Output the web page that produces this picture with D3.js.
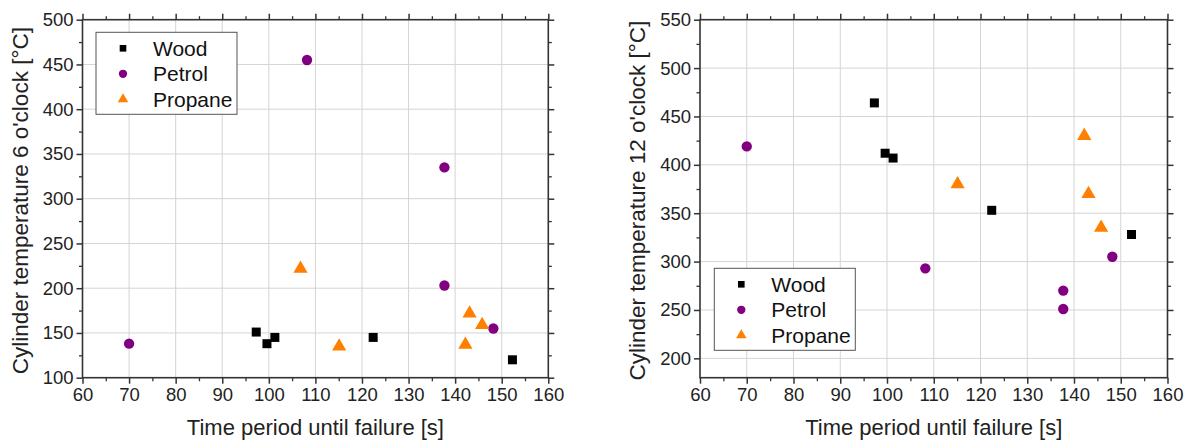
<!DOCTYPE html>
<html>
<head>
<meta charset="utf-8">
<script src="https://cdn.jsdelivr.net/npm/d3@7"></script>
<style>
  html, body { margin: 0; padding: 0; background: #fff; }
  svg { display: block; font-family: "Liberation Sans", Arial, sans-serif; }
</style>
</head>
<body>
<svg id="chart" width="1188" height="441"></svg>
<script>
// Time until failure [s] for each fire source
const woodTime    = [97.3, 99.6, 101.3, 122.4, 152.3];
const petrolTime  = [70.0, 108.2, 137.7, 137.7, 148.2];
const propaneTime = [106.8, 115.1, 142.2, 143.1, 145.8];

// Cylinder wall temperature at the 6 o'clock position [°C]
const wood6    = [151, 138, 145, 145, 120];
const petrol6  = [138, 455, 335, 203, 155];
const propane6 = [223, 136, 138, 173, 160];

// Cylinder wall temperature at the 12 o'clock position [°C]
// (no 12 o'clock reading for the first propane test)
const wood12    = [464, 412, 407, 353, 328];
const petrol12  = [419, 293, 251, 270, 305];
const propane12 = [null, 381, 431, 371, 336];

const seriesNames = ["Wood", "Petrol", "Propane"];
const xTicks = [60, 70, 80, 90, 100, 110, 120, 130, 140, 150, 160];
const yTicks6 = [100, 150, 200, 250, 300, 350, 400, 450, 500];
const yTicks12 = [200, 250, 300, 350, 400, 450, 500, 550];

const colors = { Wood: "#000000", Petrol: "#800080", Propane: "#ff8000" };
const shapes = { Wood: d3.symbolSquare, Petrol: d3.symbolCircle, Propane: d3.symbolTriangle };

const svg = d3.select("#chart");

function panel(opt) {
  const { left, right, top, bottom } = opt.box;
  const g = svg.append("g");
  const x = d3.scaleLinear().domain([60, 160]).range([left, right]);
  const y = d3.scaleLinear().domain(opt.yDomain).range([bottom, top]);
  const w = right - left, h = bottom - top;

  // grid
  const grid = g.append("g").attr("stroke", "#d4d4d4").attr("stroke-width", 1);
  grid.selectAll("line.vx").data(xTicks.slice(1, -1)).join("line")
    .attr("x1", d => x(d)).attr("x2", d => x(d)).attr("y1", top).attr("y2", bottom);
  grid.selectAll("line.hy").data(opt.yTicks.filter(t => t > opt.yDomain[0] && t < opt.yDomain[1])).join("line")
    .attr("x1", left).attr("x2", right).attr("y1", d => y(d)).attr("y2", d => y(d));

  const minorX = d3.range(65, 160, 10);
  const minorY = d3.range(opt.yTicks[0] - 25, opt.yDomain[1], 50).filter(v => v > opt.yDomain[0]);

  const styleAxis = (sel, labels) => {
    sel.select(".domain").remove();
    sel.selectAll(".tick line").attr("stroke", "#333").attr("stroke-width", 1.5);
    sel.selectAll(".tick text").attr("fill", "#222").style("font-size", "18.5px")
      .style("font-family", "'Liberation Sans', Arial, sans-serif");
    if (!labels) sel.selectAll(".tick text").remove();
  };
  const minorStyle = sel => {
    sel.select(".domain").remove();
    sel.selectAll(".tick line").attr("stroke", "#333").attr("stroke-width", 1.3);
    sel.selectAll(".tick text").remove();
  };

  // bottom / top axes
  g.append("g").attr("transform", `translate(0,${bottom})`)
    .call(d3.axisBottom(x).tickValues(xTicks).tickSize(6).tickPadding(4)).call(s => styleAxis(s, true));
  g.append("g").attr("transform", `translate(0,${bottom})`)
    .call(d3.axisBottom(x).tickValues(minorX).tickSize(3.5)).call(minorStyle);
  g.append("g").attr("transform", `translate(0,${top})`)
    .call(d3.axisTop(x).tickValues(xTicks).tickSize(6)).call(s => styleAxis(s, false));
  g.append("g").attr("transform", `translate(0,${top})`)
    .call(d3.axisTop(x).tickValues(minorX).tickSize(3.5)).call(minorStyle);

  // left / right axes
  g.append("g").attr("transform", `translate(${left},0)`)
    .call(d3.axisLeft(y).tickValues(opt.yTicks).tickSize(6).tickPadding(3)).call(s => styleAxis(s, true));
  g.append("g").attr("transform", `translate(${left},0)`)
    .call(d3.axisLeft(y).tickValues(minorY).tickSize(3.5)).call(minorStyle);
  g.append("g").attr("transform", `translate(${right},0)`)
    .call(d3.axisRight(y).tickValues(opt.yTicks).tickSize(6)).call(s => styleAxis(s, false));
  g.append("g").attr("transform", `translate(${right},0)`)
    .call(d3.axisRight(y).tickValues(minorY).tickSize(3.5)).call(minorStyle);

  // frame
  g.append("rect").attr("x", left).attr("y", top).attr("width", w).attr("height", h)
    .attr("fill", "none").attr("stroke", "#333").attr("stroke-width", 1.6);

  // markers
  const sizes = { Wood: 81, Petrol: 84, Propane: 88 };
  opt.series.forEach(s => {
    const pts = s.xs.map((v, i) => [v, s.ys[i]]).filter(p => p[1] != null);
    g.append("g").selectAll("path").data(pts).join("path")
      .attr("transform", d => `translate(${x(d[0])},${y(d[1]) + (s.name === "Propane" ? 1 : 0)})`)
      .attr("d", d3.symbol(shapes[s.name], sizes[s.name]))
      .attr("fill", colors[s.name]);
  });

  // axis titles
  g.append("text").attr("x", (left + right) / 2).attr("y", 435)
    .attr("text-anchor", "middle").attr("fill", "#222").style("font-size", "22px")
    .text("Time period until failure [s]");
  g.append("text")
    .attr("transform", `translate(${opt.yTitleX},${(top + bottom) / 2 + 2}) rotate(-90)`)
    .attr("text-anchor", "middle").attr("fill", "#222").style("font-size", "22.5px")
    .text(opt.yTitle);

  // legend
  const L = opt.legend;
  const lg = g.append("g");
  lg.append("rect").attr("x", L.x).attr("y", L.y).attr("width", 141).attr("height", 82)
    .attr("fill", "#fff").attr("stroke", "#555").attr("stroke-width", 1);
  const legendSizes = { Wood: 44, Petrol: 54, Propane: 48 };
  seriesNames.forEach((name, i) => {
    const cy = L.y + 16 + i * 25.5;
    lg.append("path").attr("transform", `translate(${L.x + 27},${cy})`)
      .attr("d", d3.symbol(shapes[name], legendSizes[name])).attr("fill", colors[name]);
    lg.append("text").attr("x", L.x + 57).attr("y", cy).attr("dy", "0.36em")
      .attr("fill", "#111").style("font-size", "21px").text(name);
  });
}

panel({
  box: { left: 82.5, right: 548.3, top: 19.7, bottom: 377.7 },
  yDomain: [100, 500],
  yTicks: yTicks6,
  yTitle: "Cylinder temperature 6 o'clock [°C]",
  yTitleX: 28,
  legend: { x: 96, y: 32.3 },
  series: [
    { name: "Wood", xs: woodTime, ys: wood6 },
    { name: "Petrol", xs: petrolTime, ys: petrol6 },
    { name: "Propane", xs: propaneTime, ys: propane6 }
  ]
});

panel({
  box: { left: 700, right: 1167.5, top: 19.7, bottom: 377.7 },
  yDomain: [180, 550],
  yTicks: yTicks12,
  yTitle: "Cylinder temperature 12 o'clock [°C]",
  yTitleX: 645,
  legend: { x: 714.3, y: 268.3 },
  series: [
    { name: "Wood", xs: woodTime, ys: wood12 },
    { name: "Petrol", xs: petrolTime, ys: petrol12 },
    { name: "Propane", xs: propaneTime, ys: propane12 }
  ]
});
</script>
</body>
</html>
